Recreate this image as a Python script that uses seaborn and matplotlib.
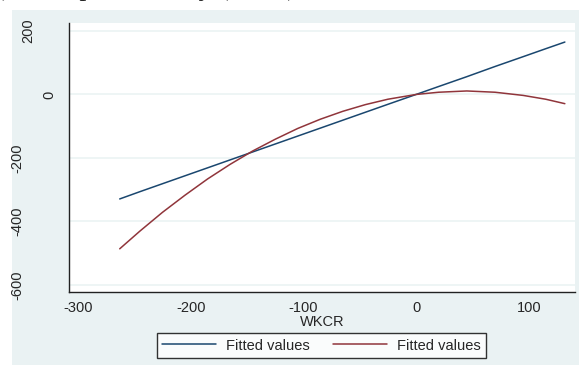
# ---------------------------------------------------
# Fitted values of the outcome against WKCR (Stata-like look)
# ---------------------------------------------------

import matplotlib
matplotlib.use("Agg")
import matplotlib.pyplot as plt
import matplotlib.transforms as mtransforms
from matplotlib.patches import Rectangle
import seaborn as sns
import pandas as pd

# values
wkcr = [-263, -245, -225, -205, -185, -165, -145, -125, -105, -85,
        -65, -45, -25, 0, 20, 45, 70, 95, 115, 132]
fit_linear = [-329, -306, -281, -256, -231, -206, -181, -156, -131, -106,
              -81, -56, -31, 0, 25, 56, 88, 119, 144, 165]
fit_quadratic = [-486, -430, -371, -317, -266, -220, -178, -141, -107, -78,
                 -53, -32, -15, 0, 7, 11, 7, -3, -15, -29]

x_ticks = [-300, -200, -100, 0, 100]
y_ticks = [-600, -400, -200, 0, 200]
legend_labels = ["Fitted values", "Fitted values"]
caption = "b) Firm profitability (ROA)"

# Stata s2color palette
BG = "#EAF2F3"
NAVY = "#1A476F"
MAROON = "#90353B"

sns.set_theme(style="white", rc={"axes.facecolor": "white", "figure.facecolor": "white"})
plt.rcParams["font.family"] = ["Liberation Sans", "DejaVu Sans"]

W, H = 579, 367
fig = plt.figure(figsize=(W / 100, H / 100), dpi=100)

# outer graph region (behind the axes)
fig.patches.append(Rectangle((12 / W, 2 / H), 1 - 12 / W, (357 - 2) / H,
                             transform=fig.transFigure, facecolor=BG,
                             edgecolor="none", zorder=-5))

# caption cropped at the very top: only descenders show
fig.text(-12 / W, 1 + 5 / H, caption, fontsize=20, family="Liberation Serif",
         ha="left", va="baseline")

ax = fig.add_axes([69 / W, (H - 292) / H, (575 - 69) / W, (292 - 23) / H])
ax.set_zorder(1)

df = pd.DataFrame({"wkcr": wkcr, "lin": fit_linear, "quad": fit_quadratic})
sns.lineplot(data=df, x="wkcr", y="lin", color=NAVY, linewidth=1.1,
             label=legend_labels[0], sort=False, legend=False, ax=ax)
sns.lineplot(data=df, x="wkcr", y="quad", color=MAROON, linewidth=1.1,
             label=legend_labels[1], sort=False, legend=False, ax=ax)
if ax.get_legend() is not None:
    ax.get_legend().remove()

ax.set_xlim(-308, 141)
ax.set_ylim(-622, 225)
ax.set_xticks(x_ticks)
ax.set_yticks(y_ticks)
ax.set_xticklabels([str(v) for v in x_ticks])
ax.set_yticklabels([str(v) for v in y_ticks])

# horizontal grid like Stata
ax.yaxis.grid(True, color=BG, linewidth=1.1)
ax.xaxis.grid(False)
ax.set_axisbelow(True)

for side in ["top", "right"]:
    ax.spines[side].set_visible(False)
for side in ["left", "bottom"]:
    ax.spines[side].set_color("#222222")
    ax.spines[side].set_linewidth(1.0)

ax.tick_params(axis="x", direction="out", length=4.3, width=0.9, color="#222222",
               labelsize=10.5, pad=2)
ax.tick_params(axis="y", direction="out", length=4.3, width=0.9, color="#222222",
               labelsize=10.5, pad=27.5)

# vertical y labels, placed as Stata does (space kept for horizontal width)
for lab in ax.get_yticklabels():
    lab.set_rotation(90)
    lab.set_va("center")
    lab.set_ha("right")
    shift = (4 - len(lab.get_text())) * 10.5
    lab.set_transform(mtransforms.offset_copy(lab.get_transform(), fig=fig,
                                              x=shift, y=0, units="dots"))

ax.set_xlabel("WKCR", fontsize=10.5, labelpad=0)
ax.set_ylabel("")

handles, labels = ax.get_legend_handles_labels()
leg = fig.legend(handles, labels, loc="center", bbox_to_anchor=(321.5 / W, 1 - 345.5 / H),
                 ncol=2, fontsize=10.5, frameon=True, fancybox=False,
                 handlelength=3.7, handletextpad=0.7, columnspacing=1.6,
                 borderpad=0.35, borderaxespad=0)
leg.get_frame().set_edgecolor("black")
leg.get_frame().set_linewidth(1.0)
leg.get_frame().set_facecolor("white")

plt.savefig("out.png", dpi=100)
